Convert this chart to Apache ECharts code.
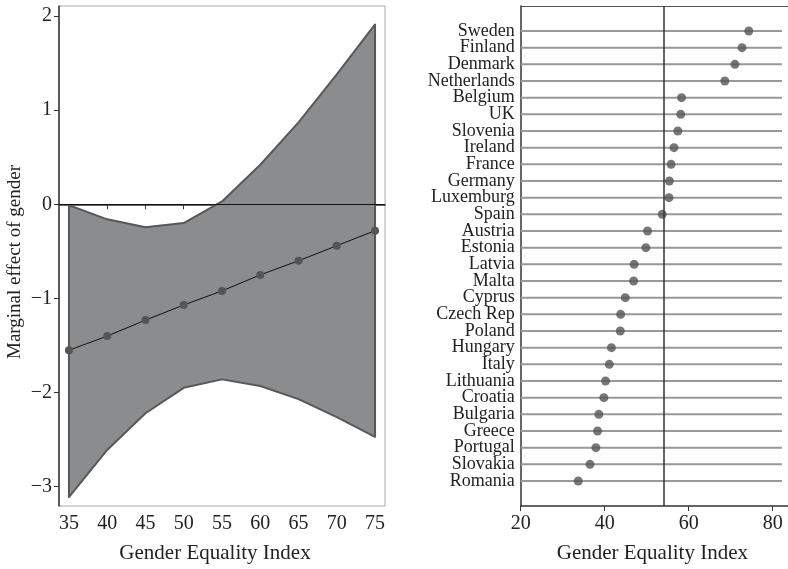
<!DOCTYPE html>
<html>
<head>
<meta charset="utf-8">
<script src="https://cdn.jsdelivr.net/npm/echarts@6/dist/echarts.min.js"></script>
<style>
  html, body { margin: 0; padding: 0; background: #fff; }
  #chart { width: 788px; height: 569px; }
</style>
</head>
<body>
<div id="chart"></div>
<script>
// ---- left panel: marginal effect of gender ----
const geIndex = [35, 40, 45, 50, 55, 60, 65, 70, 75];
const effect = [-1.55, -1.40, -1.23, -1.07, -0.92, -0.75, -0.60, -0.44, -0.28];
const ciLower = [-3.11, -2.61, -2.22, -1.95, -1.86, -1.93, -2.07, -2.26, -2.47];
const ciUpper = [-0.01, -0.16, -0.245, -0.20, 0.03, 0.42, 0.87, 1.38, 1.91];
const leftXTicks = [35, 40, 45, 50, 55, 60, 65, 70, 75];
const leftYTicks = [-3, -2, -1, 0, 1, 2];

// ---- right panel: country scores ----
const countries = ['Sweden', 'Finland', 'Denmark', 'Netherlands', 'Belgium', 'UK', 'Slovenia',
  'Ireland', 'France', 'Germany', 'Luxemburg', 'Spain', 'Austria', 'Estonia', 'Latvia', 'Malta',
  'Cyprus', 'Czech Rep', 'Poland', 'Hungary', 'Italy', 'Lithuania', 'Croatia', 'Bulgaria',
  'Greece', 'Portugal', 'Slovakia', 'Romania'];
const scores = [74.3, 72.7, 71.0, 68.6, 58.3, 58.1, 57.4, 56.5, 55.8, 55.4, 55.3, 53.7, 50.2,
  49.8, 47.0, 46.9, 44.9, 43.8, 43.7, 41.6, 41.1, 40.2, 39.8, 38.6, 38.3, 37.9, 36.5, 33.7];
const euMean = 54.0;

const FONT = 'Liberation Serif';
const INK = '#222';
const minus = v => (v < 0 ? '\u2212' + Math.abs(v) : String(v));

const chart = echarts.init(document.getElementById('chart'));

// rows padded with one empty slot top and bottom
const rowCats = [''].concat(countries, ['']);

chart.setOption({
    animation: false,
    textStyle: { fontFamily: FONT, color: INK },
    grid: [
        { left: 59, top: 6, width: 326, height: 502.5, show: true, borderColor: '#aaa', borderWidth: 1 },
        { left: 520.7, top: 6, right: 0, height: 502.3 },
    ],
    xAxis: [
        {
            gridIndex: 0, type: 'value', min: 33.7, max: 76.3,
            name: 'Gender Equality Index', nameLocation: 'middle', nameGap: 37,
            nameTextStyle: { fontFamily: FONT, fontSize: 21, color: INK, padding: [0, 14, 0, 0] },
            axisLine: { show: true, lineStyle: { color: '#333', width: 1.5 } },
            axisTick: { show: true, length: 5, customValues: leftXTicks, lineStyle: { color: '#333' } },
            axisLabel: { customValues: leftXTicks, fontFamily: FONT, fontSize: 20, color: INK, margin: 8 },
            splitLine: { show: false },
        },
        {
            gridIndex: 1, type: 'value', min: 20, max: 83.64, interval: 20,
            name: 'Gender Equality Index', nameLocation: 'middle', nameGap: 37,
            nameTextStyle: { fontFamily: FONT, fontSize: 21, color: INK, padding: [0, 0, 0, -4] },
            axisLine: { show: true, lineStyle: { color: '#333', width: 1.5 } },
            axisTick: { show: true, length: 5, lineStyle: { color: '#333' } },
            axisLabel: { fontFamily: FONT, fontSize: 20, color: INK, margin: 8, showMaxLabel: false },
            splitLine: { show: false },
        },
        {
            gridIndex: 1, type: 'value', position: 'top', min: 20, max: 83.64,
            axisLine: { show: true, lineStyle: { color: '#555', width: 1 } },
            axisTick: { show: false }, axisLabel: { show: false }, splitLine: { show: false },
        },
    ],
    yAxis: [
        {
            gridIndex: 0, type: 'value', min: -3.205, max: 2.106,
            name: 'Marginal effect of gender', nameLocation: 'middle', nameGap: 34,
            nameTextStyle: { fontFamily: FONT, fontSize: 19, color: INK, padding: [0, 12, 0, 0] },
            axisLine: { show: true, lineStyle: { color: '#333', width: 1.5 } },
            axisTick: { show: true, length: 5, customValues: leftYTicks, lineStyle: { color: '#333' } },
            axisLabel: {
                customValues: leftYTicks, fontFamily: FONT, fontSize: 20, color: INK, margin: 7,
                formatter: minus,
            },
            splitLine: { show: false },
        },
        {
            gridIndex: 1, type: 'category', data: rowCats, inverse: true,
            axisLine: { show: true, lineStyle: { color: '#333', width: 1.5 } },
            axisTick: { show: false },
            axisLabel: { fontFamily: FONT, fontSize: 18, color: INK, margin: 6, interval: 0 },
            splitLine: { show: false },
        },
    ],
    series: [
        {
            // confidence band
            type: 'custom',
            xAxisIndex: 0, yAxisIndex: 0,
            data: geIndex.map((x, i) => [x, ciLower[i], ciUpper[i]]),
            encode: { x: 0, y: [1, 2] },
            silent: true,
            z: 1,
            renderItem(params, api) {
                if (params.dataIndex !== 0) return { type: 'group', children: [] };
                const top = geIndex.map((x, i) => api.coord([x, ciUpper[i]]));
                const bot = geIndex.map((x, i) => api.coord([x, ciLower[i]])).reverse();
                return {
                    type: 'polygon',
                    shape: { points: top.concat(bot) },
                    style: { fill: '#8b8c8e', stroke: '#585858', lineWidth: 2, lineJoin: 'round' },
                };
            },
        },
        {
            type: 'line',
            xAxisIndex: 0, yAxisIndex: 0,
            data: geIndex.map((x, i) => [x, effect[i]]),
            symbol: 'circle', symbolSize: 8,
            itemStyle: { color: '#555' },
            lineStyle: { color: '#111', width: 1 },
            z: 3,
            markLine: {
                silent: true, symbol: 'none', label: { show: false },
                lineStyle: { color: '#111', width: 1, type: 'solid' },
                data: [{ yAxis: 0 }],
            },
        },
        {
            // row stems across the plot
            type: 'custom',
            xAxisIndex: 1, yAxisIndex: 1,
            data: countries.map((c, i) => [scores[i], c]),
            encode: { x: 0, y: 1 },
            silent: true,
            z: 1,
            renderItem(params, api) {
                const cs = params.coordSys;
                const y = api.coord([api.value(0), api.value(1)])[1];
                return {
                    type: 'line',
                    shape: { x1: cs.x, y1: y, x2: cs.x + cs.width - 6, y2: y },
                    style: { stroke: '#999', lineWidth: 2 },
                };
            },
        },
        {
            type: 'scatter',
            xAxisIndex: 1, yAxisIndex: 1,
            data: countries.map((c, i) => [scores[i], c]),
            symbol: 'circle', symbolSize: 9,
            itemStyle: { color: '#555' },
            z: 3,
            markLine: {
                silent: true, symbol: 'none', label: { show: false },
                lineStyle: { color: '#333', width: 1.5, type: 'solid' },
                data: [{ xAxis: euMean }],
            },
        },
    ],
});
</script>
</body>
</html>
